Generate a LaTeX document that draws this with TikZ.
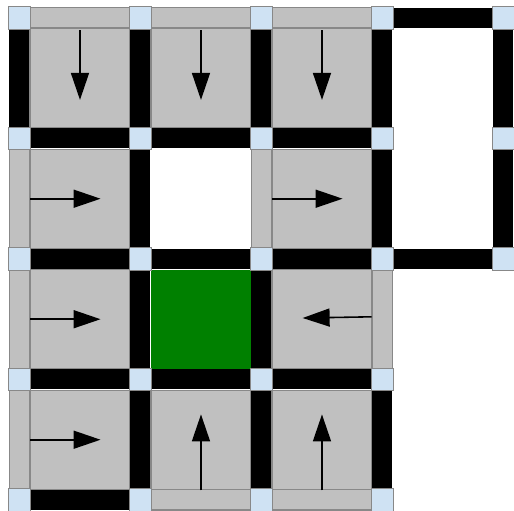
\documentclass[tikz,border=0pt]{standalone}
\usetikzlibrary{arrows.meta}
\definecolor{floorgray}{HTML}{C0C0C0}
\definecolor{edgegray}{HTML}{888888}
\definecolor{postblue}{HTML}{CFE2F3}
\definecolor{goalgreen}{HTML}{008000}

\begin{document}
\begin{tikzpicture}[x=1.21cm,y=-1.205cm,>={Triangle[length=2.7mm,width=1.8mm]},
  tile/.style={draw=edgegray,fill=floorgray,line width=0.3pt,minimum width=1cm,minimum height=0.99cm,inner sep=0},
  goal/.style={tile,fill=goalgreen,draw=none},
  wall/.style={line width=2mm},
  gap/.style={draw=edgegray,double=floorgray,double distance=1.9mm,line width=0.3pt},
  post/.style={draw=edgegray,fill=postblue,line width=0.4pt,minimum size=2.25mm,inner sep=0},
  flow/.style={->,line width=0.45pt}]
  \useasboundingbox (-0.161,-0.149) rectangle (4.087,4.091);

  \foreach \c/\r in {0/0,1/0,2/0,0/1,2/1,0/2,2/2,0/3,1/3,2/3}
    \node[tile] (t\c\r) at (\c+0.5,\r+0.5) {};
  \node[goal] (t12) at (1.5,2.5) {};

  % open edges
  \foreach \a/\b/\c/\d in {0/0/1/0,1/0/2/0,2/0/3/0,1/4/2/4,2/4/3/4,0/1/0/2,0/2/0/3,0/3/0/4,2/1/2/2,3/2/3/3}
    \draw[gap] (\a,\b) -- (\c,\d);

  % walls
  \foreach \a/\b/\c/\d in {3/0/4/0,0/1/3/1,0/2/4/2,0/3/3/3,0/4/1/4,0/0/0/1,1/0/1/4,2/0/2/1,2/2/2/4,3/0/3/2,3/3/3/4,4/0/4/2}
    \draw[wall] (\a,\b) -- (\c,\d);

  \foreach \i in {0,...,3}
    \foreach \j in {0,...,4}
      \node[post] (p\i\j) at (\i,\j) {};
  \foreach \j in {0,1,2}
    \node[post] (p4\j) at (4,\j) {};

  % policy
  \foreach \c in {0,1,2}
    \draw[flow] (\c+0.5,0.1) -- (\c+0.5,0.68);
  \foreach \c/\r in {0/1,2/1,0/2,0/3}
    \draw[flow] (\c+0.09,\r+0.5) -- (\c+0.67,\r+0.5);
  \draw[flow] (2.91,2.48) -- (2.34,2.49);
  \foreach \c in {1,2}
    \draw[flow] (\c+0.5,3.92) -- (\c+0.5,3.29);
\end{tikzpicture}
\end{document}
